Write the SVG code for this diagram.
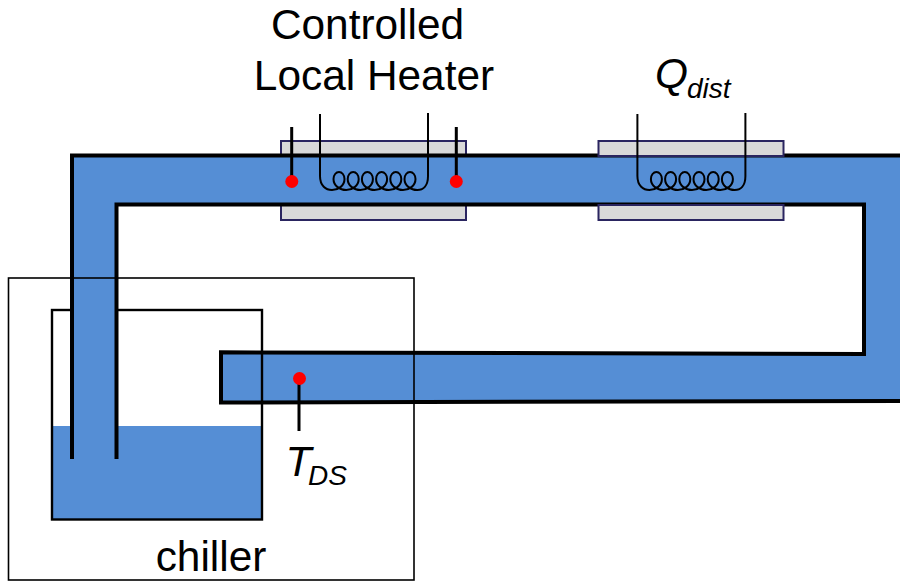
<svg xmlns="http://www.w3.org/2000/svg" width="900" height="581" viewBox="0 0 900 581">
<style>
text{font-family:"Liberation Sans",Arial,sans-serif;fill:#000}
.big{font-size:42.4px}
.sub{font-style:italic;font-size:28px}
.it{font-style:italic;font-size:42.4px}
.plate{fill:#d9d9d9;stroke:#2a2560;stroke-width:2}
.pipe{fill:none;stroke:#000;stroke-width:4}
.box{fill:none;stroke:#000;stroke-width:1.6}
.tank{fill:none;stroke:#000;stroke-width:2.4}
.wire{fill:none;stroke:#000;stroke-width:2}
.probe{fill:none;stroke:#000;stroke-width:3}
.dot{fill:#f00}
.water{fill:#558ed5}
</style>
<defs>
<path id="coil" class="wire" d="M320 114V176C320 186 326 190 332 190c6 0 12.500 -4 12.500 -11c0 -4 -2.500 -7 -5.500 -7c-3 0 -5.500 3 -5.500 7c0 7 6.500 11 12.700 11c6 0 12.500 -4 12.500 -11c0 -4 -2.500 -7 -5.500 -7c-3 0 -5.500 3 -5.500 7c0 7 6.500 11 12.700 11c6 0 12.500 -4 12.500 -11c0 -4 -2.500 -7 -5.500 -7c-3 0 -5.500 3 -5.500 7c0 7 6.500 11 12.700 11c6 0 12.500 -4 12.500 -11c0 -4 -2.500 -7 -5.500 -7c-3 0 -5.500 3 -5.500 7c0 7 6.500 11 12.700 11c6 0 12.500 -4 12.500 -11c0 -4 -2.500 -7 -5.500 -7c-3 0 -5.500 3 -5.500 7c0 7 6.500 11 12.700 11c6 0 12.500 -4 12.500 -11c0 -4 -2.500 -7 -5.500 -7c-3 0 -5.500 3 -5.500 7c0 7 6.500 11 12.700 11C423 190 428 186 428 176V113"/>
</defs>
<g id="plates-local">
<rect class="plate" x="281" y="141" width="185" height="18"/>
<rect class="plate" x="281" y="202" width="185" height="18"/>
</g>
<g id="tank">
<rect class="water" x="52" y="426" width="210" height="94"/>
<rect class="tank" x="52" y="310" width="210" height="209.500"/>
</g>
<g id="pipe">
<path class="water" d="M72 155.500H900V401L221 402.500V352.500L864 354V204.500H116.500V459H72Z"/>
<path class="pipe" d="M72 459V155.500H900"/>
<path class="pipe" d="M116.500 459V204.500H864V354L221 352.300V402.500L900 401"/>
<path class="tank" d="M262 352V402"/>
</g>
<g id="plates-dist">
<rect class="plate" x="598.500" y="141" width="185" height="15"/>
<rect class="plate" x="598.500" y="205" width="185" height="15"/>
</g>
<g id="chiller">
<rect class="box" x="8.500" y="278" width="405.500" height="302"/>
<text class="big" x="211" y="571" text-anchor="middle">chiller</text>
</g>
<g id="heaters">
<use href="#coil"/>
<use href="#coil" x="317.400"/>
</g>
<g id="sensors">
<path class="probe" d="M291.700 127V181M456.300 127V181M299 378V431"/>
<circle class="dot" cx="291.800" cy="181.500" r="6.500"/>
<circle class="dot" cx="456.300" cy="181.500" r="6.500"/>
<circle class="dot" cx="299.500" cy="378.500" r="6.500"/>
</g>
<g id="labels">
<text class="big" x="367.500" y="39" text-anchor="middle">Controlled</text>
<text class="big" x="374" y="90" text-anchor="middle">Local Heater</text>
<text class="it" x="655" y="88">Q</text>
<text class="sub" x="687" y="98">dist</text>
<text class="it" x="285.500" y="476">T</text>
<text class="sub" x="308" y="484.500">DS</text>
</g>
</svg>
